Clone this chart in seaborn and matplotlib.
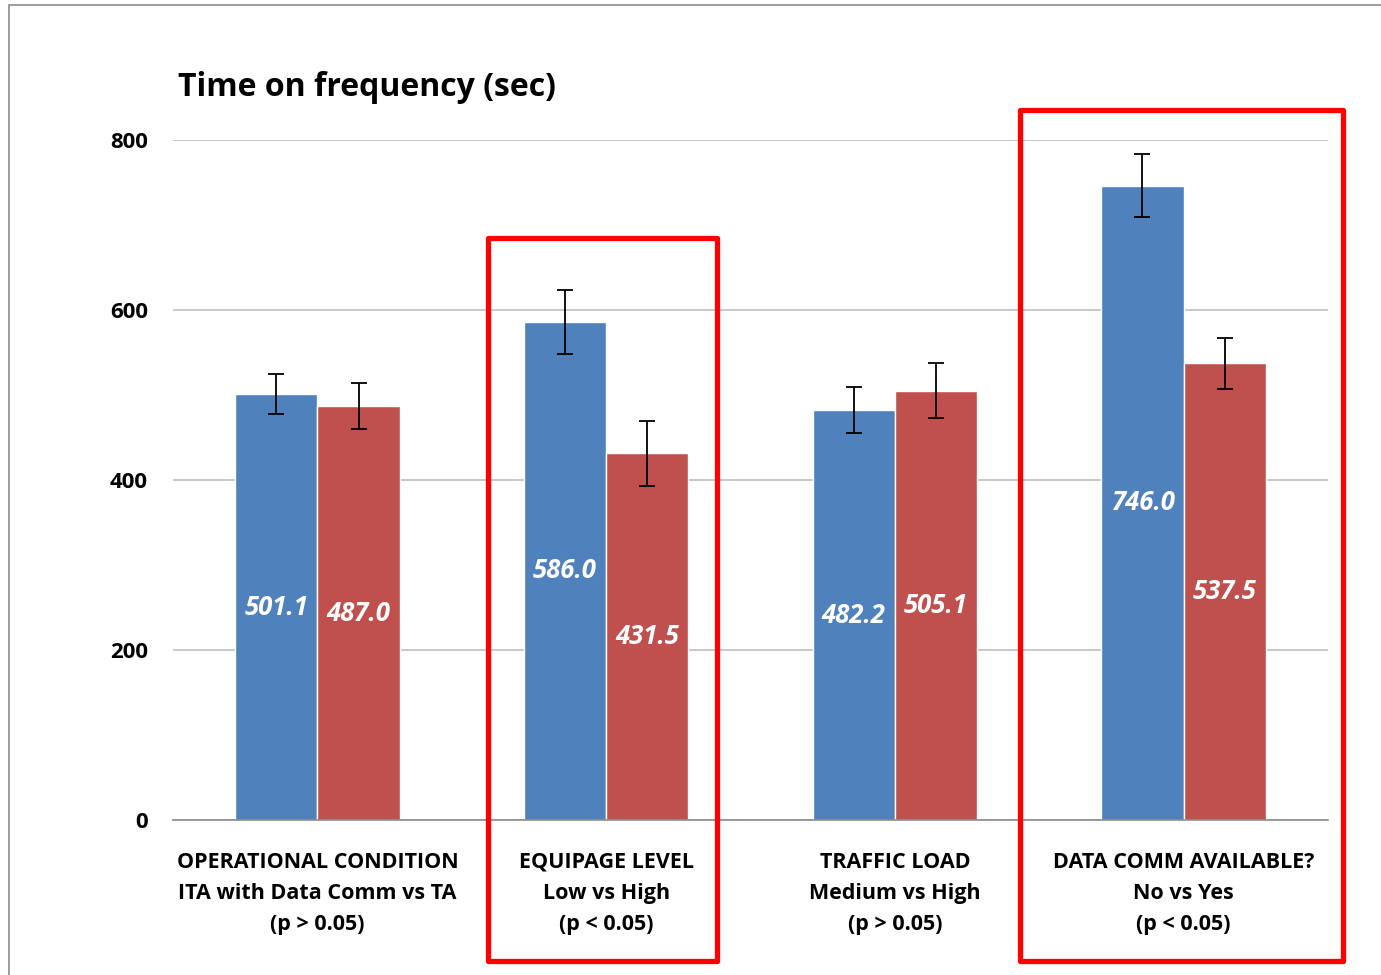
import matplotlib
matplotlib.use('Agg')
import matplotlib.pyplot as plt
import numpy as np
import pandas as pd
import seaborn as sns
from matplotlib.patches import Rectangle

# data
categories = ['OPERATIONAL CONDITION\nITA with Data Comm vs TA\n(p > 0.05)',
              'EQUIPAGE LEVEL\nLow vs High\n(p < 0.05)',
              'TRAFFIC LOAD\nMedium vs High\n(p > 0.05)',
              'DATA COMM AVAILABLE?\nNo vs Yes\n(p < 0.05)']
first_vals = [501.1, 586.0, 482.2, 746.0]
second_vals = [487.0, 431.5, 505.1, 537.5]
first_err = [24, 38, 27, 37]
second_err = [27, 38, 32, 30]
yticks = [0, 200, 400, 600, 800]

blue = '#4F81BD'
red = '#C0504D'

sns.set_style("white")
plt.rcParams['font.family'] = ['Open Sans', 'DejaVu Sans']
plt.rcParams['text.color'] = 'black'
plt.rcParams['xtick.color'] = 'black'
plt.rcParams['ytick.color'] = 'black'

df = pd.DataFrame({
    'cat': categories * 2,
    'grp': ['a'] * 4 + ['b'] * 4,
    'val': first_vals + second_vals,
    'err': first_err + second_err,
})

fig = plt.figure(figsize=(13.81, 9.75), dpi=100)
ax = fig.add_axes([0.1253, 0.1590, 0.8363, 0.6974])

sns.barplot(data=df, x='cat', y='val', hue='grp', palette=[blue, red], saturation=1,
            width=0.57, gap=0, errorbar=None, legend=False, ax=ax, zorder=2)

# error bars + centered value labels
for cont, vals, errs in zip(ax.containers, [first_vals, second_vals], [first_err, second_err]):
    xs = [p.get_x() + p.get_width() / 2 for p in cont.patches]
    ax.errorbar(xs, vals, yerr=errs, fmt='none', ecolor='black', elinewidth=1.3,
                capsize=6, capthick=1.3, zorder=3)
    ax.bar_label(cont, labels=['%.1f' % v for v in vals], label_type='center',
                 color='white', fontsize=18.5, fontweight='bold', fontstyle='italic')

ax.set_ylim(0, 800)
ax.set_xlim(-0.5, 3.5)
ax.set_yticks(yticks)
ax.set_yticklabels([str(t) for t in yticks], fontsize=16, fontweight='bold')
ax.tick_params(axis='y', length=0, pad=18)
ax.yaxis.grid(True, color='#BFBFBF', linewidth=1.2, zorder=0)
ax.set_axisbelow(True)

ax.set_xticks(range(4))
ax.set_xticklabels(categories, fontsize=15.5, fontweight='bold', linespacing=1.62)
ax.set_xticks(np.arange(-0.5, 4, 1), minor=True)
ax.tick_params(axis='x', which='major', length=0, pad=23)
ax.tick_params(axis='x', which='minor', length=6, color='#8C8C8C', direction='out', width=1.2)

for s in ['left', 'top', 'right']:
    ax.spines[s].set_visible(False)
ax.spines['bottom'].set_color('#8C8C8C')
ax.spines['bottom'].set_linewidth(1.2)
ax.set_xlabel('')
ax.set_ylabel('')

fig.text(178 / 1381, 1 - 88 / 975, 'Time on frequency (sec)', fontsize=23,
         fontweight='bold', ha='left', va='center')

# chart border
fig.add_artist(Rectangle((9 / 1381, -0.1), 1.2, 1 - 5 / 975 + 0.1, transform=fig.transFigure,
                         fill=False, edgecolor='#8C8C8C', linewidth=1.2))

# highlight boxes
for x0, y0, x1, y1 in [(488, 238, 717, 961), (1020, 110, 1343, 961)]:
    fig.add_artist(Rectangle((x0 / 1381, 1 - y1 / 975), (x1 - x0) / 1381, (y1 - y0) / 975,
                             transform=fig.transFigure, fill=False, edgecolor='#FF0000',
                             linewidth=3.8, joinstyle='round'))

fig.savefig('out.png', dpi=100)
